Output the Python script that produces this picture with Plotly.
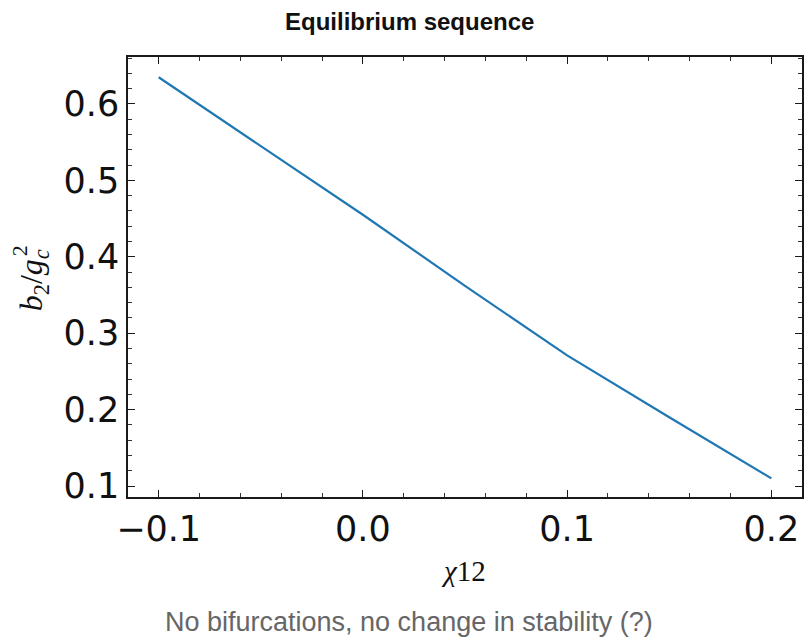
import plotly.graph_objects as go

chi12 = [-0.10, -0.05, 0.00, 0.05, 0.10, 0.15, 0.20]
b2_over_gc2 = [0.635, 0.545, 0.455, 0.362, 0.271, 0.190, 0.110]

title_text = "Equilibrium sequence"
caption_text = "No bifurcations, no change in stability (?)"
x_ticks = [-0.1, 0.0, 0.1, 0.2]
x_ticklabels = ["\u22120.1", "0.0", "0.1", "0.2"]
y_ticks = [0.1, 0.2, 0.3, 0.4, 0.5, 0.6]
y_ticklabels = ["0.1", "0.2", "0.3", "0.4", "0.5", "0.6"]

W, H = 805, 639
L, R, T, B = 128, 1, 57, 142

fig = go.Figure()
fig.add_trace(go.Scatter(x=chi12, y=b2_over_gc2, mode="lines",
                         line=dict(color="#1f77b4", width=2.2), showlegend=False))

axis_common = dict(
    showgrid=False, zeroline=False, showline=True, linecolor="#1a1a1a", linewidth=1.5,
    mirror="allticks", ticks="inside", ticklen=7, tickwidth=1.3, tickcolor="#1a1a1a",
    tickfont=dict(family="DejaVu Sans", size=35, color="#111"),
    minor=dict(ticks="inside", ticklen=4, tickwidth=1, tickcolor="#333", dtick=0.02, showgrid=False),
)

fig.update_xaxes(range=[-0.115, 0.215], tickvals=x_ticks, ticktext=x_ticklabels,
                 **axis_common)
fig.update_yaxes(range=[0.0856, 0.6615], tickvals=y_ticks, ticktext=y_ticklabels,
                 ticklabelstandoff=0, **axis_common)

fig.update_layout(
    width=W, height=H, margin=dict(l=L, r=R, t=T, b=B, pad=0),
    paper_bgcolor="white", plot_bgcolor="white",
)

pw = W - L - R
ph = H - T - B

def px_x(px):
    return (px - L) / pw

def px_y(py):
    return (H - B - py) / ph

fig.add_annotation(text="<b>" + title_text + "</b>", x=px_x(410), y=px_y(22),
                   xref="x domain", yref="y domain", showarrow=False,
                   font=dict(family="Liberation Sans", size=24, color="#111"),
                   xanchor="center", yanchor="middle")
fig.add_annotation(text=caption_text, x=px_x(410), y=px_y(622),
                   xref="x domain", yref="y domain", showarrow=False,
                   font=dict(family="Liberation Sans", size=27, color="#666"),
                   xanchor="center", yanchor="middle")
fig.add_annotation(text="<i>\u03c7</i>12", x=px_x(464), y=px_y(571),
                   xref="x domain", yref="y domain", showarrow=False,
                   font=dict(family="Liberation Serif", size=29, color="#111"),
                   xanchor="center", yanchor="middle")
fig.add_annotation(text="<i>b</i><sub>2</sub>/<i>g</i><sub><i>c</i></sub>", x=px_x(33), y=px_y(280),
                   xref="x domain", yref="y domain", showarrow=False, textangle=-90,
                   font=dict(family="Liberation Serif", size=32, color="#111"),
                   xanchor="center", yanchor="middle")
fig.add_annotation(text="2", x=px_x(19), y=px_y(251),
                   xref="x domain", yref="y domain", showarrow=False, textangle=-90,
                   font=dict(family="Liberation Serif", size=22, color="#111"),
                   xanchor="center", yanchor="middle")

fig.write_html("out.html")
